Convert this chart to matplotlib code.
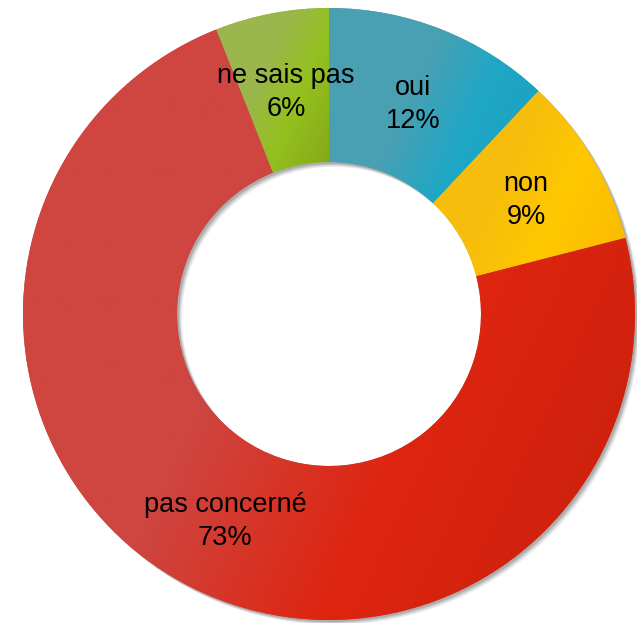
import numpy as np
import matplotlib
matplotlib.use("Agg")
import matplotlib.pyplot as plt
from matplotlib.colors import LinearSegmentedColormap
from matplotlib.patches import Wedge

labels = ["oui", "non", "pas concerné", "ne sais pas"]
values = [12, 9, 73, 6]
# muted, bright, dark for each slice
grad_colors = [
    ["#4aa0b3", "#4aa0b3", "#1fa7c6", "#1e9fbd"],
    ["#f7bd0c", "#f7bd0c", "#ffc800", "#f9b800"],
    ["#cf4540", "#cf4540", "#de2510", "#c8200c"],
    ["#9bb64c", "#9bb64c", "#94c11f", "#84a817"],
]

plt.rcParams["font.family"] = ["Liberation Sans", "DejaVu Sans"]

fig = plt.figure(figsize=(6.37, 6.23), dpi=100)
ax = fig.add_axes([0, 0, 1, 1])

cx, cy, R, w = 329, 309, 306, 154

# soft drop shadow behind the ring
for k, a in zip([5, 4, 3, 2], [0.06, 0.08, 0.1, 0.12]):
    ax.add_patch(Wedge((cx + k, cy - k), R, 0, 360, width=w,
                       facecolor="#000000", alpha=a, lw=0, zorder=0))

wedges, _ = ax.pie(values, center=(cx, cy), radius=R, startangle=90,
                   counterclock=False, wedgeprops=dict(width=w, lw=0),
                   frame=True)

ang = np.deg2rad(-25)
d = np.array([np.cos(ang), np.sin(ang)])
for wd, cols in zip(wedges, grad_colors):
    bb = wd.get_path().get_extents()
    x0, y0, x1, y1 = bb.x0, bb.y0, bb.x1, bb.y1
    xs = np.linspace(x0, x1, 200)
    ys = np.linspace(y1, y0, 200)
    X, Y = np.meshgrid(xs, ys)
    P = X * d[0] + Y * d[1]
    t = (P - P.min()) / (P.max() - P.min())
    cmap = LinearSegmentedColormap.from_list(
        "g", list(zip([0, 0.4, 0.65, 1.0], cols)))
    im = ax.imshow(cmap(t), extent=(x0, x1, y0, y1), zorder=2,
                   interpolation="bilinear")
    im.set_clip_path(wd)
    wd.set_facecolor(cols[0])

rm = R - w / 2
for wd, lab, v in zip(wedges, labels, values):
    th = np.deg2rad((wd.theta1 + wd.theta2) / 2)
    ax.text(cx + rm * np.cos(th), cy + rm * np.sin(th) - 3, f"{lab}\n{v}%",
            ha="center", va="center", fontsize=19.5, color="#000000",
            linespacing=1.35, zorder=5)

ax.set_xlim(0, 637)
ax.set_ylim(0, 623)
ax.set_aspect("equal")
ax.axis("off")
fig.savefig("out.png", dpi=100)
